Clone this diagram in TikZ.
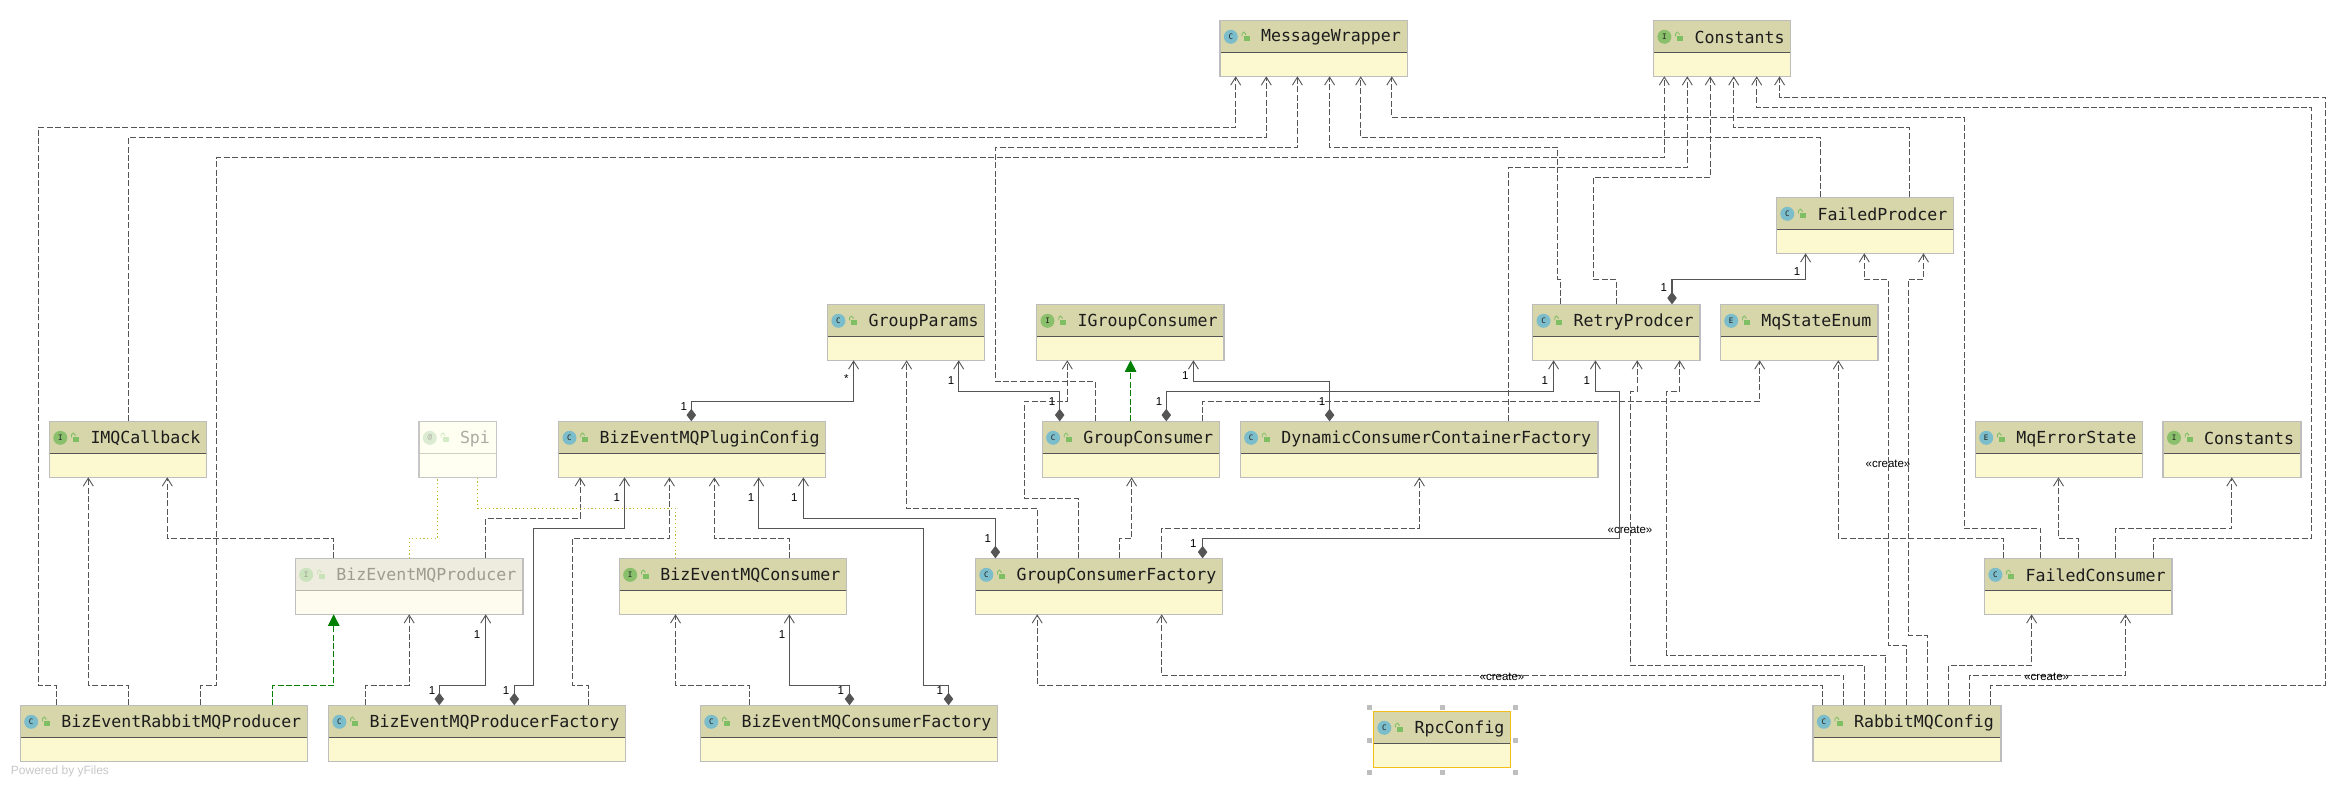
\documentclass[tikz,border=0pt]{standalone}
\usepackage{fontspec}
\setmainfont{Liberation Sans}
\newfontfamily\classfont{DejaVu Sans Mono}
\usetikzlibrary{arrows.meta}

\definecolor{wire}{HTML}{555555}
\definecolor{iconc}{HTML}{7CBDCB}
\definecolor{iconi}{HTML}{8AC06C}

% header, body, border etc. for the three looks of a class box
\tikzset{
  plainlook/.code={\definecolor{headc}{HTML}{D7D5AA}\definecolor{bodyc}{HTML}{FCF9D1}
    \definecolor{edgec}{HTML}{BDBDBD}\definecolor{sepc}{HTML}{555555}\definecolor{textc}{HTML}{1C1C1C}
    \definecolor{lockc}{HTML}{7FBF63}\def\iconmix{100}},
  fadedlook/.code={\definecolor{headc}{HTML}{EEECDF}\definecolor{bodyc}{HTML}{FEFCEE}
    \definecolor{edgec}{HTML}{BFBFBF}\definecolor{sepc}{HTML}{B8B8A8}\definecolor{textc}{HTML}{9C9C90}
    \definecolor{lockc}{HTML}{C8E3B8}\def\iconmix{45}},
  palelook/.code={\definecolor{headc}{HTML}{FEFEF1}\definecolor{bodyc}{HTML}{FFFFF2}
    \definecolor{edgec}{HTML}{C6C6C6}\definecolor{sepc}{HTML}{CFCFC4}\definecolor{textc}{HTML}{ABABA4}
    \definecolor{lockc}{HTML}{D4EBC8}\def\iconmix{30}},
  goldlook/.code={\pgfkeysalso{plainlook}\definecolor{edgec}{HTML}{F2BE1C}}
}

% #1 look, #2 name, #3 left, #4 top, #5 width, #6 icon letter, #7 icon colour, #8 class name
\newcommand{\classbox}[8][plainlook]{
  \begin{scope}[#1]
    \node[classframe,minimum width=#5pt] (#2) at (#3,#4) {};
    \node[classicon,fill=#7!\iconmix!white] (#2-icon) at ([xshift=10.8pt,yshift=-16.5pt]#2.north west) {#6};
    \fill[lockc] ([xshift=23.5pt,yshift=-15.5pt]#2.north west) rectangle ([xshift=29.5pt,yshift=-20.5pt]#2.north west);
    \draw[lockc,line width=0.8pt] ([xshift=22pt,yshift=-16pt]#2.north west) -- ++(0,-2.5)
      arc[start angle=180,end angle=0,radius=1.8pt,y=1pt] -- ++(0,1);
    \node[classtext] (#2-text) at ([xshift=40.8pt,yshift=-17.3pt]#2.north west) {#8};
  \end{scope}
}

\begin{document}
\begin{tikzpicture}[x=1pt,y=-1pt]
    % `dep' is a plain dependency, `comp' a composition with its diamond at the owner.
    \tikzstyle{classframe} = [draw=edgec,fill=bodyc,line width=1.5pt,anchor=north west,minimum height=56pt,inner sep=0pt,outer sep=0pt,
      path picture={\fill[headc] (path picture bounding box.north west) rectangle ([yshift=-32pt]path picture bounding box.north east);
        \draw[sepc,line width=1.2pt] ([yshift=-32pt]path picture bounding box.north west) -- ([yshift=-32pt]path picture bounding box.north east);}]
    \tikzstyle{classicon} = [circle,minimum size=14pt,inner sep=0pt,text=textc,font=\classfont\fontsize{7.5}{8}\selectfont]
    \tikzstyle{classtext} = [anchor=west,inner sep=0pt,text=textc,font=\classfont\fontsize{16.6}{18}\selectfont]
    \tikzstyle{dep} = [draw=wire,line width=0.9pt,dash pattern=on 6pt off 2.4pt,-{Straight Barb[length=8pt,width=10pt,line width=0.9pt]}]
    \tikzstyle{comp} = [draw=wire,line width=1.1pt,{Diamond[length=12.5pt,width=9.5pt,fill=wire]}-{Straight Barb[length=8pt,width=10pt,line width=0.9pt]}]
    \tikzstyle{impl} = [draw={rgb,255:red,0;green,128;blue,0},line width=0.9pt,dash pattern=on 6pt off 2.4pt,-{Triangle[length=11.5pt,width=11.5pt,fill={rgb,255:red,0;green,128;blue,0}]}]
    \tikzstyle{spiline} = [draw={rgb,255:red,190;green,185;blue,40},line width=1pt,dash pattern=on 1.2pt off 2.6pt]
    \tikzstyle{mult} = [inner sep=0pt,text=black,font=\fontsize{11.5}{12}\selectfont]
    \tikzstyle{handle} = [fill={rgb,255:red,190;green,190;blue,190},minimum size=5pt,inner sep=0pt]
    %
    \useasboundingbox[fill=white] (0,0) rectangle (2346,788);

    % Class boxes, row by row.
    \classbox{MessageWrapper}{1220}{20.3}{187.7}{C}{iconc}{MessageWrapper}
    \classbox{Constants}{1653.6}{20.3}{136.7}{I}{iconi}{Constants}
    \classbox{FailedProdcer}{1776.5}{197.3}{176.8}{C}{iconc}{FailedProdcer}

    \classbox{GroupParams}{827.6}{304.3}{157.1}{C}{iconc}{GroupParams}
    \classbox{IGroupConsumer}{1036.7}{304.3}{187.3}{I}{iconi}{IGroupConsumer}
    \classbox{RetryProdcer}{1532.7}{304.3}{167.3}{C}{iconc}{RetryProdcer}
    \classbox{MqStateEnum}{1720.4}{304.3}{157.6}{E}{iconc}{MqStateEnum}

    \classbox{IMQCallback}{49.5}{421.3}{157.1}{I}{iconi}{IMQCallback}
    \classbox[palelook]{Spi}{419}{421.3}{77.4}{@}{iconi}{Spi}
    \classbox{PluginConfig}{558.7}{421.3}{266.8}{C}{iconc}{BizEventMQPluginConfig}
    \classbox{GroupConsumer}{1042.3}{421.3}{177.1}{C}{iconc}{GroupConsumer}
    \classbox{ContainerFactory}{1240.3}{421.3}{357.7}{C}{iconc}{DynamicConsumerContainerFactory}
    \classbox{MqErrorState}{1975.4}{421.3}{167.3}{E}{iconc}{MqErrorState}
    \classbox{InnerConstants}{2163.2}{421.3}{137.6}{I}{iconi}{Constants}

    \classbox[fadedlook]{MQProducer}{295.4}{558.3}{227.6}{I}{iconi}{BizEventMQProducer}
    \classbox{MQConsumer}{619.4}{558.3}{227}{I}{iconi}{BizEventMQConsumer}
    \classbox{ConsumerFactory}{975.5}{558.3}{246.9}{C}{iconc}{GroupConsumerFactory}
    \classbox{FailedConsumer}{1984.6}{558.3}{187.3}{C}{iconc}{FailedConsumer}

    \classbox{RabbitProducer}{20.4}{705.3}{287.3}{C}{iconc}{BizEventRabbitMQProducer}
    \classbox{ProducerFactory}{328.6}{705.3}{296.9}{C}{iconc}{BizEventMQProducerFactory}
    \classbox{MQConsumerFactory}{700.5}{705.3}{296.9}{C}{iconc}{BizEventMQConsumerFactory}
    \classbox{RabbitMQConfig}{1813}{705.3}{187.8}{C}{iconc}{RabbitMQConfig}
    \classbox[goldlook]{RpcConfig}{1373.5}{711.3}{137.2}{C}{iconc}{RpcConfig}

    % Selection handles round RpcConfig.
    \foreach \hx/\hy [count=\n] in {1369.4/707.3,1442.3/707.3,1515.3/707.3,1369.4/740,1515.3/740,1369.4/772.3,1442.3/772.3,1515.3/772.3}
      \node[handle] (handle\n) at (\hx,\hy) {};

    % BizEventRabbitMQProducer
    \draw[dep] (RabbitProducer.north -| 56.6,0) |- (38.3,685.3) |- (1235.7,127.3) -- (MessageWrapper.south -| 1235.7,0);
    \draw[dep] (RabbitProducer.north -| 128.6,0) |- (88.3,685.3) -- (IMQCallback.south -| 88.3,0);
    \draw[dep] (RabbitProducer.north -| 200.5,0) |- (216.8,685.3) |- (1664.3,157.3) -- (Constants.south -| 1664.3,0);
    \draw[impl] (RabbitProducer.north -| 272.4,0) |- (333.7,685.3) -- (MQProducer.south -| 333.7,0);
    % IMQCallback and BizEventMQProducer
    \draw[dep] (IMQCallback.north -| 128.6,0) |- (1266.3,137.3) -- (MessageWrapper.south -| 1266.3,0);
    \draw[dep] (MQProducer.north -| 333.7,0) |- (167.3,538.3) -- (IMQCallback.south -| 167.3,0);
    \draw[dep] (MQProducer.north -| 485.7,0) |- (580.1,518.3) -- (PluginConfig.south -| 580.1,0);
    % BizEventMQProducerFactory
    \draw[dep] (ProducerFactory.north -| 365.3,0) |- (409.2,685.3) -- (MQProducer.south -| 409.2,0);
    \draw[comp] (ProducerFactory.north -| 439.3,0) |- (485.7,685.3) -- (MQProducer.south -| 485.7,0);
    \draw[comp] (ProducerFactory.north -| 514.3,0) |- (533.7,685.3) |- (624.5,528.3) -- (PluginConfig.south -| 624.5,0);
    \draw[dep] (ProducerFactory.north -| 588.3,0) |- (572.4,685.3) |- (669.4,538.3) -- (PluginConfig.south -| 669.4,0);
    % Spi
    \draw[spiline] (MQProducer.north -| 409.2,0) |- (437.8,538.3) -- (Spi.south -| 437.8,0);
    \draw[spiline] (MQConsumer.north -| 675.5,0) |- (477.6,508.3) -- (Spi.south -| 477.6,0);
    % BizEventMQConsumer and its factory
    \draw[dep] (MQConsumer.north -| 789.3,0) |- (714.3,538.3) -- (PluginConfig.south -| 714.3,0);
    \draw[dep] (MQConsumerFactory.north -| 749.5,0) |- (675.5,685.3) -- (MQConsumer.south -| 675.5,0);
    \draw[comp] (MQConsumerFactory.north -| 849.5,0) |- (789.3,685.3) -- (MQConsumer.south -| 789.3,0);
    \draw[comp] (MQConsumerFactory.north -| 948.5,0) |- (923.5,685.3) |- (758.7,528.3) -- (PluginConfig.south -| 758.7,0);
    \draw[comp] (PluginConfig.north -| 691.3,0) |- (853.6,401.3) -- (GroupParams.south -| 853.6,0);
    % GroupConsumerFactory
    \draw[comp] (ConsumerFactory.north -| 995.4,0) |- (803.4,518.3) -- (PluginConfig.south -| 803.4,0);
    \draw[dep] (ConsumerFactory.north -| 1037.2,0) |- (906.6,508.3) -- (GroupParams.south -| 906.6,0);
    \draw[dep] (ConsumerFactory.north -| 1078.6,0) |- (1024.5,498.3) |- (1067.3,401.3) -- (IGroupConsumer.south -| 1067.3,0);
    \draw[dep] (ConsumerFactory.north -| 1119.4,0) |- (1131.6,538.3) -- (GroupConsumer.south -| 1131.6,0);
    \draw[dep] (ConsumerFactory.north -| 1161.7,0) |- (1419.4,528.3) -- (ContainerFactory.south -| 1419.4,0);
    \draw[comp] (ConsumerFactory.north -| 1202.6,0) |- (1619.6,538.3) |- (1595.4,391.3) -- (RetryProdcer.south -| 1595.4,0);
    % GroupConsumer
    \draw[comp] (GroupConsumer.north -| 1059.7,0) |- (958.7,391.3) -- (GroupParams.south -| 958.7,0);
    \draw[dep] (GroupConsumer.north -| 1095,0) |- (995.4,381.3) |- (1297.4,147.3) -- (MessageWrapper.south -| 1297.4,0);
    \draw[impl] (GroupConsumer.north -| 1130.6,0) -- (IGroupConsumer.south -| 1130.6,0);
    \draw[comp] (GroupConsumer.north -| 1166.3,0) |- (1553.6,391.3) -- (RetryProdcer.south -| 1553.6,0);
    \draw[dep] (GroupConsumer.north -| 1202.6,0) |- (1759.7,401.3) -- (MqStateEnum.south -| 1759.7,0);
    % DynamicConsumerContainerFactory
    \draw[comp] (ContainerFactory.north -| 1329.6,0) |- (1193.4,381.3) -- (IGroupConsumer.south -| 1193.4,0);
    \draw[dep] (ContainerFactory.north -| 1508.7,0) |- (1687.3,167.3) -- (Constants.south -| 1687.3,0);
    % RetryProdcer and FailedProdcer
    \draw[dep] (RetryProdcer.north -| 1560.7,0) |- (1557.7,279.3) |- (1329.6,147.3) -- (MessageWrapper.south -| 1329.6,0);
    \draw[dep] (RetryProdcer.north -| 1616.3,0) |- (1593.4,279.3) |- (1710.2,177.3) -- (Constants.south -| 1710.2,0);
    \draw[comp] (RetryProdcer.north -| 1672,0) |- (1805.6,279.3) -- (FailedProdcer.south -| 1805.6,0);
    \draw[dep] (FailedProdcer.north -| 1820.4,0) |- (1360.7,137.3) -- (MessageWrapper.south -| 1360.7,0);
    \draw[dep] (FailedProdcer.north -| 1909.5,0) |- (1733.7,127.3) -- (Constants.south -| 1733.7,0);
    % FailedConsumer
    \draw[dep] (FailedConsumer.north -| 2003.5,0) |- (1838.3,538.3) -- (MqStateEnum.south -| 1838.3,0);
    \draw[dep] (FailedConsumer.north -| 2040.7,0) |- (1964.3,528.3) |- (1391.8,117.3) -- (MessageWrapper.south -| 1391.8,0);
    \draw[dep] (FailedConsumer.north -| 2078.5,0) |- (2058.5,538.3) -- (MqErrorState.south -| 2058.5,0);
    \draw[dep] (FailedConsumer.north -| 2115.8,0) |- (2231.8,528.3) -- (InnerConstants.south -| 2231.8,0);
    \draw[dep] (FailedConsumer.north -| 2153.5,0) |- (2311.3,538.3) |- (1756.7,107.3) -- (Constants.south -| 1756.7,0);
    % RabbitMQConfig
    \draw[dep] (RabbitMQConfig.north -| 1822.7,0) |- (1037.2,685.3) -- (ConsumerFactory.south -| 1037.2,0);
    \draw[dep] (RabbitMQConfig.north -| 1843.8,0) |- (1161.7,675.3) -- (ConsumerFactory.south -| 1161.7,0);
    \draw[dep] (RabbitMQConfig.north -| 1864.8,0) |- (1630.6,665.3) |- (1637.2,391.3) -- (RetryProdcer.south -| 1637.2,0);
    \draw[dep] (RabbitMQConfig.north -| 1885.9,0) |- (1666.5,655.3) |- (1679.6,391.3) -- (RetryProdcer.south -| 1679.6,0);
    \draw[dep] (RabbitMQConfig.north -| 1906.4,0) |- (1888.3,645.3) |- (1864.3,279.3) -- (FailedProdcer.south -| 1864.3,0);
    \draw[dep] (RabbitMQConfig.north -| 1927.4,0) |- (1908.6,635.3) |- (1923.5,279.3) -- (FailedProdcer.south -| 1923.5,0);
    \draw[dep] (RabbitMQConfig.north -| 1948.5,0) |- (2031.6,665.3) -- (FailedConsumer.south -| 2031.6,0);
    \draw[dep] (RabbitMQConfig.north -| 1969.5,0) |- (2125.5,675.3) -- (FailedConsumer.south -| 2125.5,0);
    \draw[dep] (RabbitMQConfig.north -| 1990.6,0) |- (2325.5,685.3) |- (1779.6,97.3) -- (Constants.south -| 1779.6,0);

    % Multiplicities and stereotypes.
    \foreach \lx/\ly/\ltext [count=\n] in {683.7/406.7/1,846.4/378.7/*,616.8/497.7/1,751/497.7/1,794.4/497.7/1,
        477/635/1,782/635/1,432/690.7/1,506/690.7/1,840.8/690.7/1,939.8/690.7/1,951/380.7/1,1052/401.7/1,
        1159/401.7/1,1185.2/376/1,1322/401.7/1,987.8/538.7/1,1193.4/543.3/1,1544.9/380.7/1,1586.7/380.3/1,
        1663.8/287.7/1,1797/271.7/1}
      \node[mult] (mult\n) at (\lx,\ly) {\ltext};
    \foreach \lx/\ly [count=\n] in {1630/530,1888/464,1502/677,2046.7/677}
      \node[mult] (create\n) at (\lx,\ly) {«create»};

    \node[inner sep=0pt,text={rgb,255:red,200;green,200;blue,200},font=\fontsize{12}{13}\selectfont] (poweredby) at (60,771.7) {Powered by yFiles};
\end{tikzpicture}
\end{document}
